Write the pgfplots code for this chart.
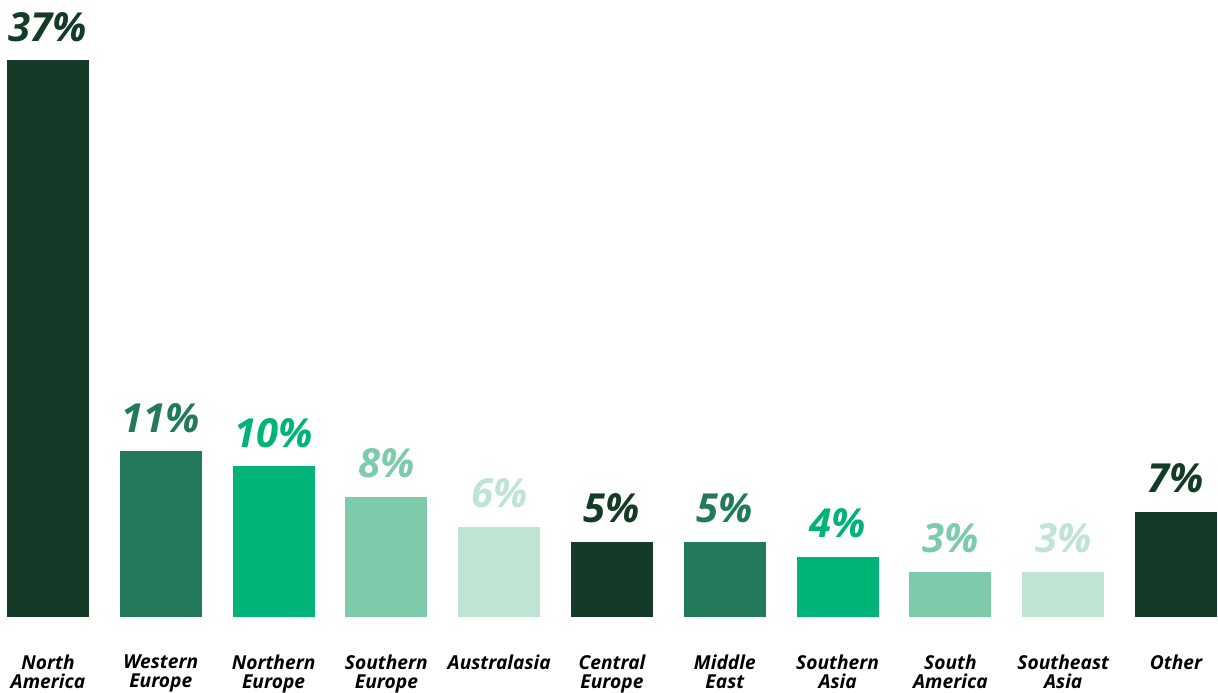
\documentclass[border=0pt]{standalone}
\usepackage{fontspec}
\setmainfont{Open Sans}
\usepackage{pgfplots}
\pgfplotsset{compat=1.18}
\definecolor{c1}{HTML}{143A28}
\definecolor{c2}{HTML}{237A5A}
\definecolor{c3}{HTML}{00B377}
\definecolor{c4}{HTML}{7DCBAA}
\definecolor{c5}{HTML}{BFE4D3}
\begin{document}
\begin{tikzpicture}
\begin{axis}[name=ax,
  width=609pt, height=308.5pt, scale only axis,
  ymin=0, ymax=41, xmin=-0.4255, xmax=10.372,
  ybar, bar width=41pt, bar shift=0pt,
  axis line style={draw=none}, tick style={draw=none},
  ytick=\empty,
  xtick={0,...,10},
  xticklabels={{North\\America},{Western\\Europe},{Northern\\Europe},{Southern\\Europe},{Australasia},{Central\\Europe},{Middle\\East},{Southern\\Asia},{South\\America},{Southeast\\Asia},{Other}},
  xticklabel style={align=center, font=\fontsize{9.6}{9.8}\selectfont\bfseries\itshape, text=black, anchor=north, yshift=-11pt},
  nodes near coords={\pgfmathprintnumber[assume math mode=true]{\pgfplotspointmeta}\%},
  every node near coord/.append style={font=\fontsize{20}{24}\selectfont\bfseries\itshape, anchor=base, inner sep=0pt, yshift=9.5pt},
  clip=false,
]
\addplot[fill=c1, draw=none, nodes near coords style={text=c1}] coordinates {(0,37)};
\addplot[fill=c2, draw=none, nodes near coords style={text=c2}] coordinates {(1,11)};
\addplot[fill=c3, draw=none, nodes near coords style={text=c3}] coordinates {(2,10)};
\addplot[fill=c4, draw=none, nodes near coords style={text=c4}] coordinates {(3,8)};
\addplot[fill=c5, draw=none, nodes near coords style={text=c5}] coordinates {(4,6)};
\addplot[fill=c1, draw=none, nodes near coords style={text=c1}] coordinates {(5,5)};
\addplot[fill=c2, draw=none, nodes near coords style={text=c2}] coordinates {(6,5)};
\addplot[fill=c3, draw=none, nodes near coords style={text=c3}] coordinates {(7,4)};
\addplot[fill=c4, draw=none, nodes near coords style={text=c4}] coordinates {(8,3)};
\addplot[fill=c5, draw=none, nodes near coords style={text=c5}] coordinates {(9,3)};
\addplot[fill=c1, draw=none, nodes near coords style={text=c1}] coordinates {(10,7)};
\end{axis}
\pgfresetboundingbox
\useasboundingbox ([yshift=-38pt]ax.south west) rectangle (ax.north east);
\end{tikzpicture}
\end{document}
